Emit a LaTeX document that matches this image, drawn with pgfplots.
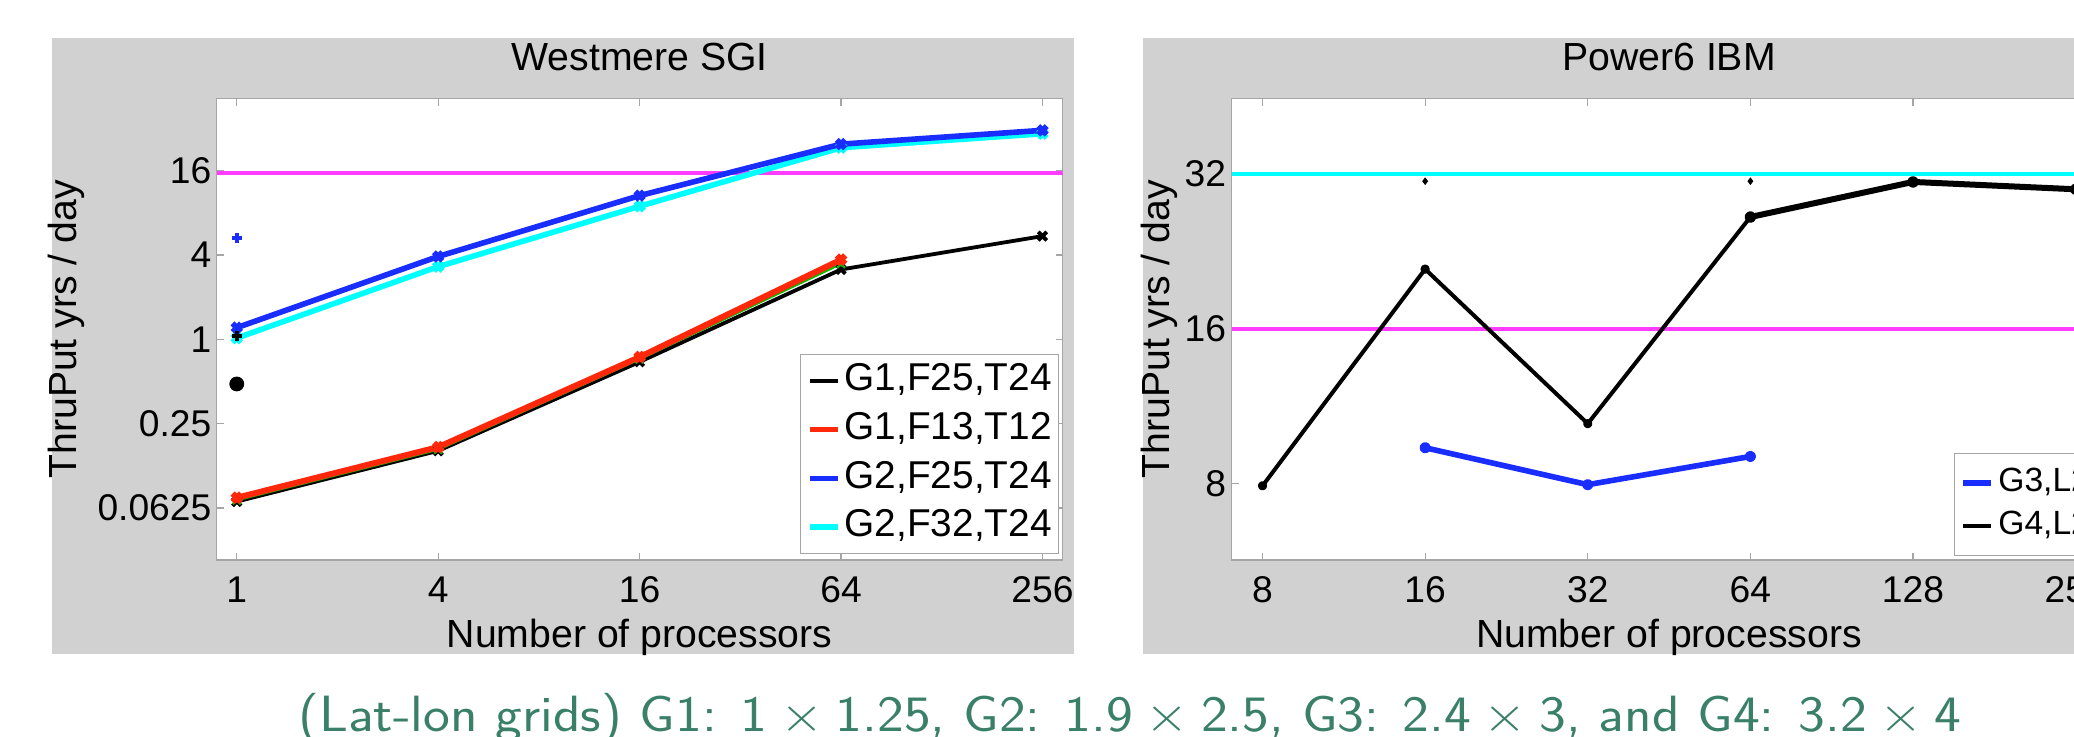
\documentclass[border=0pt]{standalone}
\usepackage{fontspec}
\setmainfont{Liberation Sans}
\usepackage{pgfplots}
\pgfplotsset{compat=1.18}

\definecolor{bgGray}{RGB}{209,209,209}
\definecolor{axGray}{RGB}{165,165,165}
\definecolor{mBlue}{RGB}{25,45,255}
\definecolor{mCyan}{RGB}{0,255,255}
\definecolor{mRed}{RGB}{255,40,10}
\definecolor{mGreen}{RGB}{0,190,0}
\definecolor{mMag}{RGB}{255,60,255}
\definecolor{capGreen}{RGB}{58,128,104}

\pgfplotsset{
  legend image code/.code={\draw[#1] (0pt,0pt) -- (14pt,0pt);},
  matbox/.style={
    scale only axis,
    anchor=south west,
    axis line style={axGray, line width=0.6pt},
    tick style={axGray, line width=0.6pt},
    major tick length=3.5pt,
    tick align=inside, tick pos=both,
    minor tick num=0,
    axis background/.style={fill=white},
    font=\fontsize{19.6}{23}\selectfont,
    ticklabel style={font=\fontsize{18.6}{22}\selectfont, text=black},
    xticklabel style={inner sep=0pt, anchor=base, yshift=-21.35pt},
    yticklabel style={inner sep=0pt, anchor=east, xshift=-2.5pt},
    title style={at={(axis description cs:0.5,1)}, anchor=center, yshift=14.8pt, inner sep=0pt},
    xlabel style={at={(axis description cs:0.5,-0.1886)}, anchor=base, inner sep=0pt},
    legend cell align=left,
  }
}

\begin{document}
\begin{tikzpicture}
\useasboundingbox (0pt,0pt) rectangle (1037pt,368pt);
\clip (0pt,0pt) rectangle (1037pt,368pt);
\fill[bgGray] (26pt,41pt) rectangle (537pt,349.2pt);
\fill[bgGray] (571.25pt,41pt) rectangle (1150pt,349.2pt);

% ---------------- Left panel: Westmere SGI ----------------
\begin{axis}[matbox,
  xmode=log, ymode=log, log basis x=2, log basis y=2,
  at={(108.35pt,88pt)}, width=422.95pt, height=230.7pt,
  xmin=0.871, xmax=294, ymin=0.0266, ymax=52.2,
  xtick={1,4,16,64,256}, xticklabels={1,4,16,64,256},
  ytick={0.0625,0.25,1,4,16}, yticklabels={0.0625,0.25,1,4,16},
  title={Westmere SGI},
  xlabel={Number of processors},
  ylabel={ThruPut yrs / day},
  ylabel style={at={(axis description cs:-0.1773,0.5)}, anchor=center, inner sep=0pt},
  legend style={at={(axis description cs:0.9954,0.013)}, anchor=south east,
    draw=axGray, line width=0.6pt, fill=white, inner xsep=3.2pt, inner ysep=3.5pt,
    row sep=4.95pt, font=\fontsize{19.4}{23}\selectfont,
    nodes={inner sep=0pt, text height=14.55pt, text depth=4.85pt},
    /tikz/every odd column/.append style={column sep=2pt}},
]
\addplot[mMag, line width=2.2pt, forget plot] coordinates {(0.871,15.3) (294,15.3)};
\addplot[black, line width=1.9pt, mark=x, mark size=3pt, line join=round, forget plot]
  coordinates {(1,0.0695) (4,0.160) (16,0.69) (64,3.15) (256,5.45)};
\addplot[mGreen, line width=1.1pt, mark=x, mark size=2.8pt, line join=round, forget plot]
  coordinates {(1,0.071) (4,0.163) (16,0.72) (64,3.45)};
\addplot[mRed, line width=3pt, mark=x, mark size=3pt, line join=round, forget plot]
  coordinates {(1,0.074) (4,0.170) (16,0.747) (64,3.70)};
\addplot[mCyan, line width=2.8pt, mark=x, mark size=3pt, line join=round, forget plot]
  coordinates {(1,1.02) (4,3.3) (16,8.9) (64,23.3) (256,29.3)};
\addplot[mBlue, line width=2.8pt, mark=x, mark size=3pt, line join=round, forget plot]
  coordinates {(1,1.21) (4,3.9) (16,10.6) (64,24.7) (256,31.0)};
\addplot[mBlue, only marks, mark=+, mark size=2.6pt, line width=1.9pt, forget plot]
  coordinates {(1,5.3)};
\addplot[black, only marks, mark=+, mark size=2.6pt, line width=1.9pt, forget plot]
  coordinates {(1,1.06)};
\addplot[black, only marks, mark=*, mark size=3.5pt, forget plot]
  coordinates {(1,0.48)};
\addlegendimage{black, line width=2.2pt}
\addlegendentry{G1,F25,T24}
\addlegendimage{mRed, line width=2.8pt}
\addlegendentry{G1,F13,T12}
\addlegendimage{mBlue, line width=2.8pt}
\addlegendentry{G2,F25,T24}
\addlegendimage{mCyan, line width=2.8pt}
\addlegendentry{G2,F32,T24}
\end{axis}

% ---------------- Right panel: Power6 IBM ----------------
\begin{axis}[matbox,
  xmode=log, ymode=log, log basis x=2, log basis y=2,
  at={(615.75pt,88pt)}, width=437.5pt, height=230.7pt,
  xmin=7.01, xmax=292, ymin=5.67, ymax=44.9,
  xtick={8,16,32,64,128,256}, xticklabels={8,16,32,64,128,256},
  ytick={8,16,32}, yticklabels={8,16,32},
  title={Power6 IBM},
  xlabel={Number of processors},
  ylabel={ThruPut yrs / day},
  ylabel style={at={(axis description cs:-0.0820,0.5)}, anchor=center, inner sep=0pt},
  legend style={at={(axis description cs:0.8257,0.0087)}, anchor=south west,
    draw=axGray, line width=0.6pt, fill=white, inner xsep=3pt, inner ysep=6.3pt,
    row sep=4.7pt, font=\fontsize{16.8}{20}\selectfont,
    nodes={inner sep=0pt, text height=12.6pt, text depth=4.2pt},
    /tikz/every odd column/.append style={column sep=2.3pt}},
]
\addplot[mCyan, line width=2.1pt, forget plot] coordinates {(7.01,32) (292,32)};
\addplot[mMag, line width=2.1pt, forget plot] coordinates {(7.01,16) (292,16)};
\addplot[black, line width=2pt, mark=*, mark size=1.3pt, line join=round, forget plot]
  coordinates {(8,7.91) (16,20.9) (32,10.45) (64,26.4) (128,30.9) (256,29.9)};
\addplot[black, line width=3pt, mark=*, mark size=1.4pt, line join=round, forget plot]
  coordinates {(64,26.4) (128,30.9) (256,29.9)};
\addplot[black, only marks, mark=diamond*, mark size=1.6pt, forget plot]
  coordinates {(16,31) (64,31)};
\addplot[mBlue, line width=2.8pt, mark=*, mark size=1.4pt, line join=round, forget plot]
  coordinates {(16,9.38) (32,7.95) (64,9.02)};
\addlegendimage{mBlue, line width=2.6pt}
\addlegendentry{G3,L26}
\addlegendimage{black, line width=2.2pt}
\addlegendentry{G4,L26}
\end{axis}

\node[anchor=base, text=capGreen, inner sep=0pt, font=\sffamily\fontsize{25.5}{30}\selectfont]
  at (565pt,2.15pt) {\resizebox{831.7pt}{\height}{(Lat-lon grids) G1: 1\kern0.22em$\times$\kern0.22em1.25, G2: 1.9\kern0.22em$\times$\kern0.22em2.5, G3: 2.4\kern0.22em$\times$\kern0.22em3, and G4: 3.2\kern0.22em$\times$\kern0.22em4}};
\end{tikzpicture}
\end{document}
